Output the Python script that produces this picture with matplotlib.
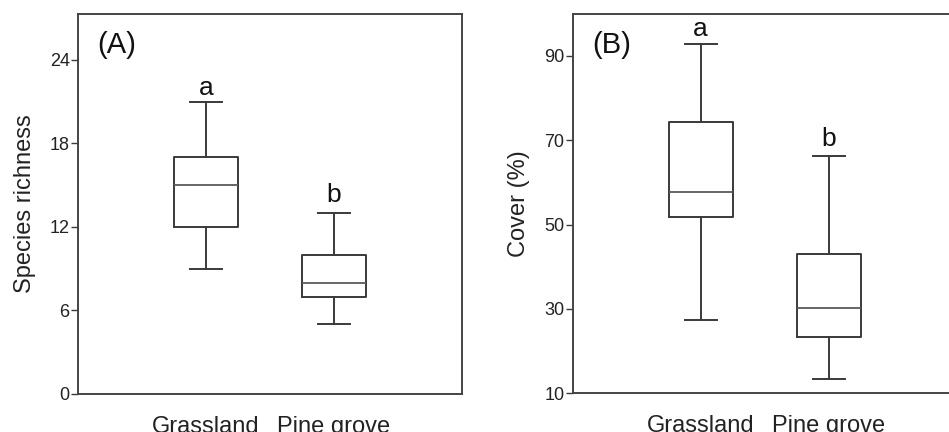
import matplotlib.pyplot as plt

plt.rcParams['font.family'] = ['Liberation Sans', 'DejaVu Sans']

groups = ['Grassland', 'Pine grove']
letters = ['a', 'b']

# box stats: whislo, q1, med, q3, whishi
richness = [[9, 12, 15, 17, 21], [5, 7, 8, 10, 13]]
cover = [[27.3, 51.8, 57.7, 74.4, 92.8], [13.3, 23.3, 30.1, 43.1, 66.2]]

richness_ticks = [0, 6, 12, 18, 24]
cover_ticks = [10, 30, 50, 70, 90]


def make_stats(rows):
    out = []
    for name, r in zip(groups, rows):
        out.append(dict(label=name, whislo=r[0], q1=r[1], med=r[2], q3=r[3], whishi=r[4], fliers=[]))
    return out


fig = plt.figure(figsize=(9.49, 4.32), dpi=100)
ax1 = fig.add_axes([0.0822, 0.088, 0.4046, 0.880])
ax2 = fig.add_axes([0.6035, 0.090, 0.4046, 0.878])

line_c = '#3a3a3a'
panels = [
    (ax1, richness, richness_ticks, (0, 27.3), 'Species richness', '(A)', [22, 14.3]),
    (ax2, cover, cover_ticks, (10, 100), 'Cover (%)', '(B)', [96.3, 70.3]),
]

for ax, rows, ticks, ylim, ylab, tag, letter_y in panels:
    ax.bxp(make_stats(rows), positions=[1, 2], widths=0.5, showfliers=False,
           boxprops=dict(color=line_c, linewidth=1.4),
           whiskerprops=dict(color=line_c, linewidth=1.4),
           capprops=dict(color=line_c, linewidth=1.4),
           medianprops=dict(color='#5a5a5a', linewidth=1.3))
    ax.set_xlim(0, 3)
    ax.set_ylim(*ylim)
    ax.set_yticks(ticks)
    ax.set_ylabel(ylab, fontsize=17, color='#222222', labelpad=10)
    ax.tick_params(axis='y', labelsize=13, length=5, width=1, color=line_c, labelcolor='#222222', pad=1)
    ax.tick_params(axis='x', labelsize=17, length=0, pad=16, labelcolor='#222222')
    for s in ax.spines.values():
        s.set_color('#444444')
        s.set_linewidth(1.4)
    ax.text(0.05, 0.955, tag, transform=ax.transAxes, fontsize=21, va='top', ha='left', color='#111111')
    for i, (lt, y) in enumerate(zip(letters, letter_y)):
        ax.text(i + 1, y, lt, fontsize=19, ha='center', va='center', color='#111111')

fig.savefig('out.png', dpi=100)
